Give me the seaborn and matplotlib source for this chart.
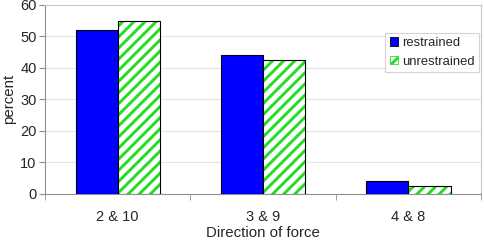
import matplotlib.pyplot as plt
import matplotlib.patches as patches
import pandas as pd
import seaborn as sns

directions = ["2 & 10", "3 & 9", "4 & 8"]
restrained = [52, 44, 4]
unrestrained = [54.8, 42.6, 2.4]

df = pd.DataFrame(
    {
        "direction": directions * 2,
        "percent": restrained + unrestrained,
        "group": ["restrained"] * 3 + ["unrestrained"] * 3,
    }
)

sns.set_style("white")
plt.rcParams["font.family"] = ["Liberation Sans", "DejaVu Sans"]
plt.rcParams["hatch.linewidth"] = 2.1
plt.rcParams["hatch.color"] = "#22dd22"

fig, ax = plt.subplots(figsize=(4.84, 2.42), dpi=100)
fig.subplots_adjust(left=0.093, right=0.994, top=0.98, bottom=0.2)

sns.barplot(
    data=df,
    x="direction",
    y="percent",
    hue="group",
    palette={"restrained": "#0000ff", "unrestrained": "white"},
    saturation=1,
    width=0.58,
    edgecolor="black",
    linewidth=0.8,
    ax=ax,
    zorder=3,
)

# green stripes on the unrestrained bars, black outline drawn on top
bars = [p for p in ax.patches if isinstance(p, patches.Rectangle)]
for bar in bars[3:6]:
    x, y = bar.get_xy()
    bar.set_edgecolor("#22dd22")
    bar.set_linewidth(0)
    bar.set_hatch("///")
    ax.add_patch(
        patches.Rectangle(
            (x, y), bar.get_width(), bar.get_height(),
            facecolor="none", edgecolor="black", linewidth=0.8, zorder=4,
        )
    )

ax.set_ylim(0, 60)
ax.set_xlim(-0.5, 2.5)
ax.set_yticks(range(0, 61, 10))
ax.yaxis.grid(True, color="#e4e4e4", linewidth=0.8, zorder=0)
ax.set_xticks([-0.5, 0.5, 1.5, 2.5], minor=True)
ax.tick_params(axis="x", which="major", length=0, labelsize=10.5, pad=12)
ax.tick_params(axis="x", which="minor", length=4, color="#909090", direction="out", bottom=True)
ax.tick_params(axis="y", length=4, color="#909090", direction="out", left=True, labelsize=10.5, pad=2)

for side in ["left", "bottom"]:
    ax.spines[side].set_color("#909090")
    ax.spines[side].set_linewidth(0.8)
for side in ["top", "right"]:
    ax.spines[side].set_color("#c8c8c8")
    ax.spines[side].set_linewidth(0.8)

ax.set_xlabel("Direction of force", fontsize=10.8, labelpad=1)
ax.set_ylabel("percent", fontsize=10.8, labelpad=3)

leg_handles = [
    patches.Patch(facecolor="#0000ff", edgecolor="black", linewidth=0.6, label="restrained"),
    patches.Patch(facecolor="white", edgecolor="#22dd22", hatch="///", linewidth=0.6, label="unrestrained"),
]
leg = ax.legend(
    handles=leg_handles,
    loc="upper right",
    bbox_to_anchor=(0.995, 0.853),
    borderaxespad=0,
    fontsize=9.4,
    frameon=True,
    fancybox=False,
    edgecolor="#c8c8c8",
    handlelength=0.65,
    handleheight=0.65,
    handletextpad=0.25,
    borderpad=0.35,
    labelspacing=0.5,
)
leg.get_frame().set_linewidth(0.8)

fig.savefig("out.png", dpi=100)
